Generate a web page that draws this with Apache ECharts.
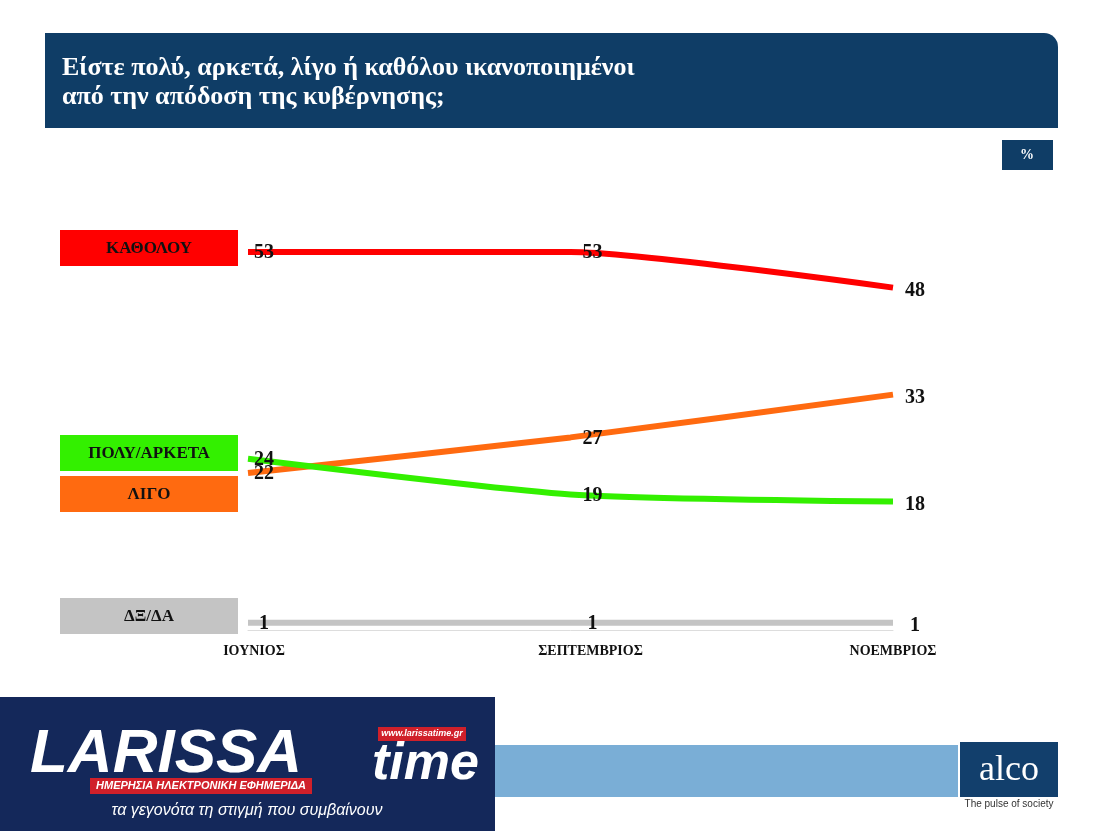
<!DOCTYPE html>
<html><head><meta charset="utf-8">
<script src="https://cdn.jsdelivr.net/npm/echarts@6/dist/echarts.min.js"></script>
<style>html,body{margin:0;padding:0;background:#fff}#c{width:1104px;height:831px}</style>
</head><body><div id="c"></div>
<script>
const months = ['ΙΟΥΝΙΟΣ','ΣΕΠΤΕΜΒΡΙΟΣ','ΝΟΕΜΒΡΙΟΣ'];
const katholou = [53,53,48];
const poluArketa = [24,19,18];
const ligo = [22,27,33];
const dxda = [1,1,1];
const names = ['ΚΑΘΟΛΟΥ','ΠΟΛΥ/ΑΡΚΕΤΑ','ΛΙΓΟ','ΔΞ/ΔΑ'];
const colors = ['#ff0000','#33f000','#ff6a10','#c4c4c4'];
const serif = '"Liberation Serif","DejaVu Serif",serif';
const chart = echarts.init(document.getElementById('c'));
const offs = [[16,1],[22,1],[22,3]];
function mk(name, data, color, z){
  return {type:'line', name, data: data.map((v,i)=>({value:v, label: {offset:offs[i]}})),
    lineStyle:{color, width:6}, itemStyle:{color}, symbol:'circle', symbolSize:0.1, showSymbol:true, smooth:0.2, z,
    label:{show:true, position:'inside', color:'#111', fontFamily:serif, fontWeight:'bold', fontSize:20}};
}
const boxes = [[230,names[0],colors[0]],[435,names[1],colors[1]],[476,names[2],colors[2]],[598,names[3],colors[3]]];
const g = [
  {type:'rect', shape:{x:45,y:33,width:1013,height:95,r:[0,14,0,0]}, style:{fill:'#0f3d66'}},
  {type:'text', left:62, top:54, style:{text:'Είστε πολύ, αρκετά, λίγο ή καθόλου ικανοποιημένοι\nαπό την απόδοση της κυβέρνησης;', fill:'#fff', font:'bold 26px '+serif, lineHeight:29}},
  {type:'rect', shape:{x:1002,y:140,width:51,height:30}, style:{fill:'#0f3d66'}},
  {type:'text', x:1027, y:155, style:{text:'%', fill:'#fff', font:'bold 14px '+serif, align:'center', verticalAlign:'middle'}},
  {type:'rect', shape:{x:495,y:745,width:463,height:52}, style:{fill:'#7aaed6'}},
  {type:'rect', shape:{x:960,y:742,width:98,height:55}, style:{fill:'#123f6c'}},
  {type:'text', x:1009, y:771, style:{text:'alco', fill:'#fff', font:'36px '+serif, align:'center', verticalAlign:'middle'}},
  {type:'text', x:1009, y:804, style:{text:'The pulse of society', fill:'#333', font:'10px "Liberation Sans",sans-serif', align:'center', verticalAlign:'middle'}},
  {type:'rect', shape:{x:0,y:697,width:495,height:134}, style:{fill:'#14285a'}},
  {type:'text', x:30, y:755, style:{text:'LARISSA', fill:'#fff', font:'italic bold 62px "Liberation Sans",sans-serif', verticalAlign:'middle'}},
  {type:'text', x:372, y:765, style:{text:'time', fill:'#fff', font:'italic bold 52px "Liberation Sans",sans-serif', verticalAlign:'middle'}},
  {type:'rect', shape:{x:378,y:727,width:88,height:14}, style:{fill:'#d0202a'}},
  {type:'text', x:422, y:734, style:{text:'www.larissatime.gr', fill:'#fff', font:'italic bold 9px "Liberation Sans",sans-serif', align:'center', verticalAlign:'middle'}},
  {type:'rect', shape:{x:90,y:778,width:222,height:16}, style:{fill:'#d0202a'}},
  {type:'text', x:201, y:786, style:{text:'ΗΜΕΡΗΣΙΑ ΗΛΕΚΤΡΟΝΙΚΗ ΕΦΗΜΕΡΙΔΑ', fill:'#fff', font:'italic bold 11px "Liberation Sans",sans-serif', align:'center', verticalAlign:'middle'}},
  {type:'text', x:247, y:811, style:{text:'τα γεγονότα τη στιγμή που συμβαίνουν', fill:'#fff', font:'italic 16px "Liberation Sans",sans-serif', align:'center', verticalAlign:'middle'}}
];
boxes.forEach(b=>{
  g.push({type:'rect', shape:{x:60,y:b[0],width:178,height:36}, style:{fill:b[2]}});
  g.push({type:'text', x:149, y:b[0]+19, style:{text:b[1], fill:'#111', font:'bold 17px '+serif, align:'center', verticalAlign:'middle'}});
});
const lblRich = {a:{padding:[0,0,0,12]}, b:{padding:[0,0,0,40]}, c:{padding:[0,0,0,0]}};
Object.values(lblRich).forEach(r=>{r.color='#111';r.fontFamily=serif;r.fontWeight='bold';r.fontSize=14;});
chart.setOption({
  animation:false,
  grid:{left:248, right:211, top:202, bottom:201},
  xAxis:{type:'category', data:months, boundaryGap:false,
    axisLine:{lineStyle:{color:'#ddd'}}, axisTick:{show:false},
    axisLabel:{margin:14, formatter:(v,i)=>'{'+'abc'[i]+'|'+v+'}', rich:lblRich}},
  yAxis:{type:'value', min:0, max:60, show:false},
  series:[mk(names[3],dxda,colors[3],1), mk(names[2],ligo,colors[2],2), mk(names[1],poluArketa,colors[1],3), mk(names[0],katholou,colors[0],4)],
  graphic:g
});
</script></body></html>
